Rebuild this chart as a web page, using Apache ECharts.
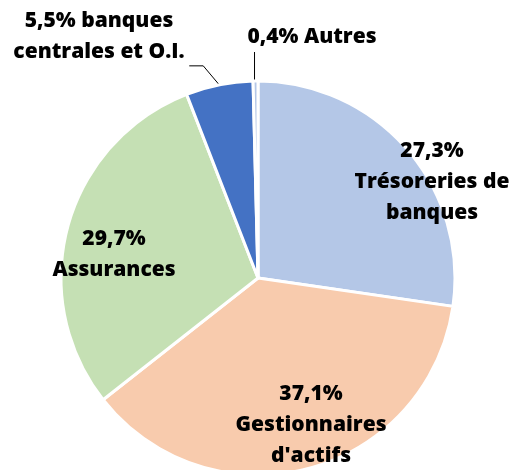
<!DOCTYPE html>
<html><head><meta charset="utf-8">
<script src="https://cdn.jsdelivr.net/npm/echarts@6/dist/echarts.min.js"></script>
<style>html,body{margin:0;padding:0;background:#fff}#c{width:513px;height:470px}</style>
</head><body><div id="c"></div>
<script>
const categories = ['Trésoreries de\nbanques', "Gestionnaires\nd'actifs", 'Assurances', 'banques\ncentrales et O.I.', 'Autres'];
const values = [27.3, 37.1, 29.7, 5.5, 0.4];
const valueLabels = ['27,3%', '37,1%', '29,7%', '5,5%', '0,4%'];
const colors = ['#B4C7E7', '#F8CBAD', '#C5E0B4', '#4472C4', '#B4C7E7'];

const labelTexts = [
  valueLabels[0] + '\n' + categories[0],
  valueLabels[1] + '\n' + categories[1],
  valueLabels[2] + '\n' + categories[2],
  valueLabels[3] + ' banques\ncentrales et O.I.',
  valueLabels[4] + ' Autres'
];
// label anchor positions (annotation placement)
const labelPos = [[432, 182], [311, 425], [114, 255], [99, 37], [312, 37]];

const chart = echarts.init(document.getElementById('c'));
chart.setOption({
  animation: false,
  series: [{
    type: 'pie',
    center: [258, 278],
    radius: 197,
    startAngle: 90,
    clockwise: true,
    data: values.map((v, i) => ({
      value: v,
      name: categories[i],
      itemStyle: { color: colors[i] },
      labelLine: { show: i >= 3 }
    })),
    itemStyle: { borderColor: '#fff', borderWidth: 3 },
    label: {
      position: 'outside',
      alignTo: 'none',
      overflow: 'none',
      width: 300,
      formatter: p => labelTexts[p.dataIndex],
      fontFamily: 'Open Sans',
      fontWeight: 800,
      fontSize: 21,
      lineHeight: 31,
      color: '#000',
      align: 'center'
    },
    labelLine: { lineStyle: { color: '#000', width: 1 } },
    labelLayout: function (p) {
      const i = p.dataIndex;
      const res = { x: labelPos[i][0], y: labelPos[i][1], align: 'center', verticalAlign: 'middle' };
      const pts = p.labelLinePoints;
      if (pts && i === 4) {
        const p0 = pts[0];
        res.labelLinePoints = [[p0[0] - 1, p0[1]], [p0[0] - 1, labelPos[i][1] + 15], [p0[0] - 1, labelPos[i][1] + 15]];
      } else if (pts && i === 3) {
        const p0 = pts[0];
        res.labelLinePoints = [p0, [p0[0] - 16, p0[1] - 19], [p0[0] - 30, p0[1] - 19]];
      }
      return res;
    }
  }]
});
</script></body></html>
